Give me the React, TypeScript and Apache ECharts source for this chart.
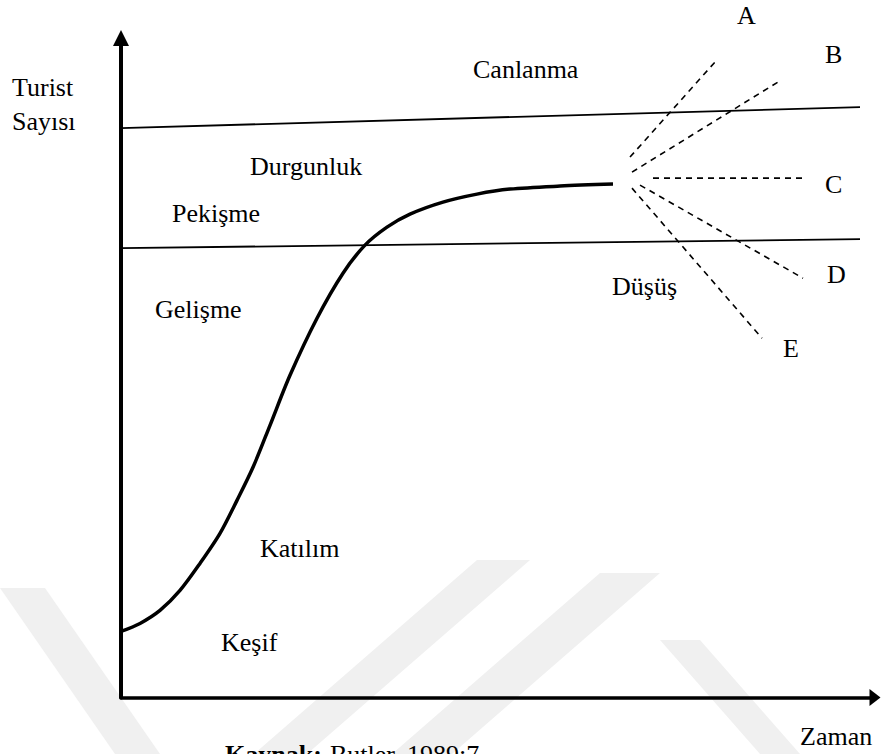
import React, { useEffect, useRef } from "react";
import * as echarts from "echarts";

// Coordinates are in chart units measured from the origin (time, tourist count)
const curveX = [0, 19, 39, 59, 79, 99, 116, 132, 149, 169, 196, 222, 244, 266, 289, 322, 356, 389, 439, 492];
const curveY = [66, 74, 87, 107, 134, 164, 197, 230, 272, 322, 379, 424, 452, 470, 483, 495, 503, 508, 511, 513];

const upperBandX = [0, 739];
const upperBandY = [569, 590];
const lowerBandX = [0, 739];
const lowerBandY = [449, 458];

const scenarioNames = ["A", "B", "C", "D", "E"];
const scenarioStartX = [509, 511, 532, 519, 511];
const scenarioStartY = [540, 525, 519, 512, 509];
const scenarioEndX = [594, 657, 682, 682, 641];
const scenarioEndY = [635, 615, 519, 419, 359];

const stageNames = ["Canlanma", "Durgunluk", "Pekişme", "Gelişme", "Katılım", "Keşif", "Düşüş"];
const axisTitleY = ["Turist", "Sayısı"];
const axisTitleX = "Zaman";
const sourceBold = "Kaynak:";
const sourceText = "Butler, 1989:7";

// label placement (pixels)
const stageLabelPos = [[473, 69], [250, 166], [172, 213], [155, 309], [260, 548], [221, 642], [612, 286]];
const scenarioLabelPos = [[737, 15], [825, 54], [825, 184], [827, 274], [783, 348]];

const FAMILY = "Liberation Serif";

function txt(text: string, x: number, y: number, bold = false) {
  return {
    type: "text",
    x,
    y,
    z: 10,
    style: {
      text,
      fontFamily: FAMILY,
      fontSize: 26,
      fontWeight: bold ? "bold" : "normal",
      fill: "#000",
      align: "left",
      verticalAlign: "middle",
    },
  };
}

const WM = "#f0f0f0";
const watermark = [
  [[0, 588], [45, 588], [160, 754], [115, 754]],
  [[477, 560], [530, 560], [307, 754], [254, 754]],
  [[600, 573], [660, 573], [452, 754], [392, 754]],
  [[660, 640], [700, 640], [800, 754], [760, 754]],
];

export default function App() {
  const ref = useRef<HTMLDivElement>(null);
  useEffect(() => {
    if (!ref.current) return;
    const chart = echarts.init(ref.current, null, { renderer: "svg" });
    const line = (xs: number[], ys: number[]) => xs.map((x, i) => [x, ys[i]]);
    const series: any[] = [
      {
        type: "line",
        data: line(curveX, curveY),
        smooth: 0.3,
        showSymbol: false,
        lineStyle: { color: "#000", width: 3.5 },
        z: 5,
      },
      {
        type: "line",
        data: line(upperBandX, upperBandY),
        showSymbol: false,
        lineStyle: { color: "#000", width: 1.8 },
      },
      {
        type: "line",
        data: line(lowerBandX, lowerBandY),
        showSymbol: false,
        lineStyle: { color: "#000", width: 1.8 },
      },
      ...scenarioNames.map((n, i) => ({
        type: "line",
        name: n,
        data: [
          [scenarioStartX[i], scenarioStartY[i]],
          [scenarioEndX[i], scenarioEndY[i]],
        ],
        showSymbol: false,
        lineStyle: { color: "#000", width: 1.6, type: [6, 5] },
      })),
    ];
    const graphics: any[] = [
      ...watermark.map((pts) => ({
        type: "polygon",
        z: -10,
        shape: { points: pts },
        style: { fill: WM },
        silent: true,
      })),
      ...stageNames.map((s, i) => txt(s, stageLabelPos[i][0], stageLabelPos[i][1])),
      ...scenarioNames.map((s, i) => txt(s, scenarioLabelPos[i][0], scenarioLabelPos[i][1])),
      txt(axisTitleY[0], 12, 87),
      txt(axisTitleY[1], 12, 121),
      txt(axisTitleX, 800, 736),
      txt(sourceBold, 225, 754, true),
      txt(sourceText, 330, 754),
    ];
    chart.setOption({
      animation: false,
      backgroundColor: "#fff",
      grid: { left: 121, right: 7, top: 38, bottom: 56.5 },
      xAxis: {
        type: "value",
        min: 0,
        max: 754,
        axisLine: {
          show: true,
          lineStyle: { color: "#000", width: 3.5 },
          symbol: ["none", "triangle"],
          symbolSize: [17, 11],
        },
        axisTick: { show: false },
        axisLabel: { show: false },
        splitLine: { show: false },
      },
      yAxis: {
        type: "value",
        min: 0,
        max: 659,
        axisLine: {
          show: true,
          lineStyle: { color: "#000", width: 4 },
          symbol: ["none", "triangle"],
          symbolSize: [16, 16],
        },
        axisTick: { show: false },
        axisLabel: { show: false },
        splitLine: { show: false },
      },
      series,
      graphic: graphics,
    });
    return () => chart.dispose();
  }, []);
  return (
    <div
      ref={ref}
      style={{ position: "fixed", left: 0, top: 0, width: 882, height: 754 }}
    />
  );
}
